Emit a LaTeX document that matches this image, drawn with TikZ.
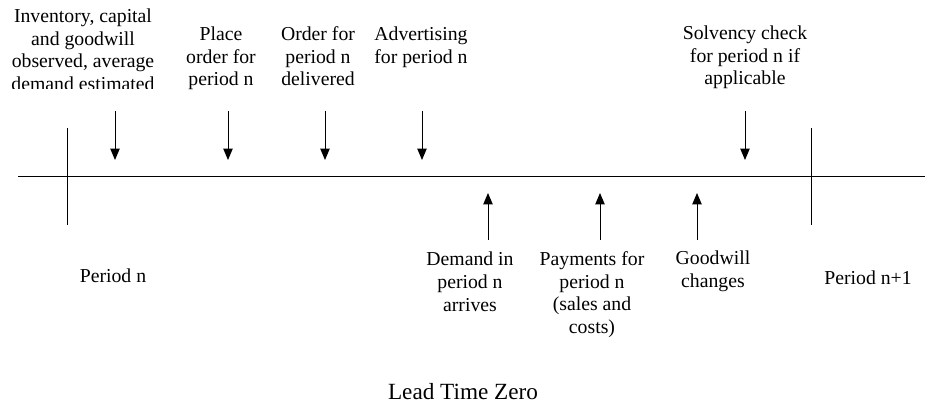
\documentclass[tikz,border=0pt]{standalone}
\usepackage{fontspec}
\setmainfont{Liberation Serif}
\usetikzlibrary{arrows.meta}
\begin{document}
\begin{tikzpicture}[x=0.75pt,y=-0.75pt,
  lbl/.style={align=center,inner sep=0pt,anchor=base,font=\fontsize{14.8}{16.9}\selectfont},
  tick/.style={line width=0.75pt},
  evarrow/.style={line width=0.75pt,-{Triangle[width=7pt,length=8.5pt]}}]
\useasboundingbox (0,0) rectangle (929,406);
% time line and period ticks
\coordinate (L0) at (18,177);
\coordinate (L1) at (925,177);
\draw[tick] (L0) -- (L1);
\coordinate (T1a) at (67,128); \coordinate (T1b) at (67,225);
\coordinate (T2a) at (811,128); \coordinate (T2b) at (811,225);
\draw[tick] (T1a) -- (T1b);
\draw[tick] (T2a) -- (T2b);
% top labels (anchor base = last line)
\begin{scope}
\clip (0,0) rectangle (929,89);
\node[lbl] (inv) at (83,90.5) {Inventory, capital\\and goodwill\\observed, average\\demand estimated};
\end{scope}
\node[lbl] (place) at (221,86) {Place\\order for\\period n};
\node[lbl] (ordr) at (318,86) {Order for\\period n\\delivered};
\node[lbl] (adv) at (421,63.5) {Advertising\\for period n};
\node[lbl] (solv) at (745,85) {Solvency check\\for period n if\\applicable};
% bottom labels
\node[lbl] (dem) at (470,311) {Demand in\\period n\\arrives};
\node[lbl] (pay) at (592,333.5) {Payments for\\period n\\(sales and\\costs)};
\node[lbl] (gw) at (713,287.5) {Goodwill\\changes};
\node[lbl] (pn) at (113,282) {Period n};
\node[lbl] (pn1) at (868,285) {Period n+1};
\node[lbl,font=\fontsize{17.4}{20}\selectfont] (lead) at (463,399) {Lead Time Zero};
% arrows down
\foreach \n/\x in {a1/115,a2/228,a3/325,a4/422,a5/745}{
  \coordinate (\n s) at (\x,111); \coordinate (\n e) at (\x,160);
  \draw[evarrow] (\n s) -- (\n e);
}
% arrows up
\foreach \n/\x in {b1/488,b2/600,b3/697}{
  \coordinate (\n s) at (\x,240); \coordinate (\n e) at (\x,193);
  \draw[evarrow] (\n s) -- (\n e);
}
\end{tikzpicture}
\end{document}
